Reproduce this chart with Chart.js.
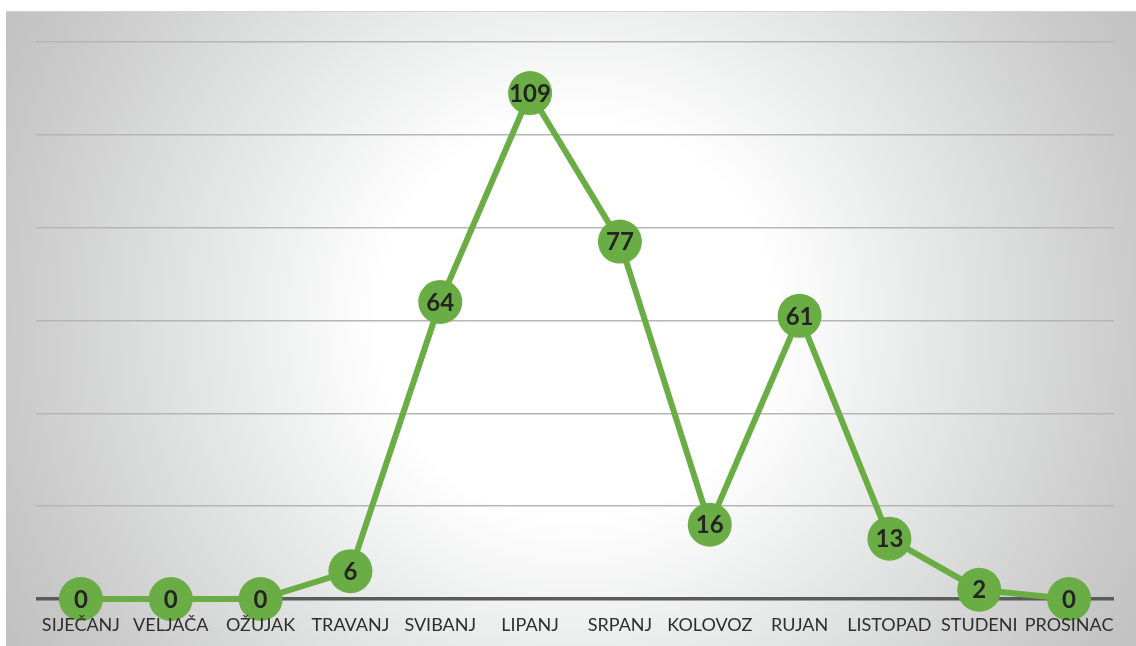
<!DOCTYPE html>
<html lang="hr">
<head>
    <meta charset="UTF-8">
    <title>Mjesečni broj</title>
    <script src="https://cdn.jsdelivr.net/npm/chart.js"></script>
    <style>
        body {
            margin: 0;
            background: #ffffff;
            overflow: hidden;
        }
        .chart-container {
            width: 1136px;
            height: 646px;
        }
    </style>
</head>
<body>
    <div class="chart-container">
        <canvas id="lineChart"></canvas>
    </div>

    <script>
        const months = ['SIJEČANJ', 'VELJAČA', 'OŽUJAK', 'TRAVANJ', 'SVIBANJ', 'LIPANJ',
                        'SRPANJ', 'KOLOVOZ', 'RUJAN', 'LISTOPAD', 'STUDENI', 'PROSINAC'];
        const counts = [0, 0, 0, 6, 64, 109, 77, 16, 61, 13, 2, 0];
        const yMax = 120;
        const yStep = 20;

        const green = '#6aad45';

        // pozadina: sivi panel s bijelim središtem
        const backgroundPlugin = {
            id: 'panelBackground',
            beforeDraw(chart) {
                const c = chart.ctx;
                const x0 = 6, y0 = 11, x1 = chart.width, y1 = chart.height;
                const g = c.createRadialGradient(575, 320, 0, 575, 320, 660);
                g.addColorStop(0, '#ffffff');
                g.addColorStop(0.3, '#ffffff');
                g.addColorStop(0.55, '#e6e7e7');
                g.addColorStop(0.87, '#c9c9c9');
                g.addColorStop(1, '#c0c0c0');
                c.save();
                c.fillStyle = g;
                c.fillRect(x0, y0, x1 - x0, y1 - y0);
                c.strokeStyle = '#d4d4d4';
                c.lineWidth = 1;
                c.beginPath();
                c.moveTo(x0, y0 + 0.5);
                c.lineTo(x1, y0 + 0.5);
                c.stroke();
                c.restore();
            }
        };

        // brojevi u kružićima
        const valueLabels = {
            id: 'valueLabels',
            afterDatasetsDraw(chart) {
                const c = chart.ctx;
                const meta = chart.getDatasetMeta(0);
                c.save();
                c.font = 'bold 24px Lato, "Open Sans", sans-serif';
                c.fillStyle = '#242424';
                c.textAlign = 'center';
                c.textBaseline = 'middle';
                meta.data.forEach((pt, i) => {
                    c.fillText(String(counts[i]), pt.x, pt.y + 1);
                });
                c.restore();
            }
        };

        const ctx = document.getElementById('lineChart').getContext('2d');
        new Chart(ctx, {
            type: 'line',
            data: {
                labels: months,
                datasets: [{
                    data: counts,
                    borderColor: green,
                    backgroundColor: green,
                    borderWidth: 6,
                    pointRadius: 22,
                    pointHoverRadius: 22,
                    pointBackgroundColor: green,
                    pointBorderColor: green,
                    pointBorderWidth: 0,
                    tension: 0,
                    clip: false
                }]
            },
            options: {
                responsive: true,
                maintainAspectRatio: false,
                animation: false,
                layout: {
                    padding: { left: 36, right: 16, top: 42, bottom: 0 }
                },
                plugins: {
                    legend: { display: false },
                    tooltip: { enabled: false }
                },
                scales: {
                    x: {
                        offset: true,
                        grid: { display: false },
                        border: { display: false },
                        afterFit(scale) {
                            scale.height = 47;
                        },
                        ticks: {
                            z: 1, // oznake mjeseci iznad kružića
                            color: '#2e2e2e',
                            font: { family: 'Lato, sans-serif', size: 18 },
                            padding: 7,
                            maxRotation: 0,
                            autoSkip: false
                        }
                    },
                    y: {
                        min: 0,
                        max: yMax,
                        border: { display: false },
                        ticks: { display: false, stepSize: yStep },
                        grid: {
                            drawTicks: false,
                            color: (c) => c.tick && c.tick.value === 0 ? '#5b5b5b' : '#b5b5b5',
                            lineWidth: (c) => c.tick && c.tick.value === 0 ? 3.5 : 1.5
                        }
                    }
                }
            },
            plugins: [backgroundPlugin, valueLabels]
        });
    </script>
</body>
</html>
